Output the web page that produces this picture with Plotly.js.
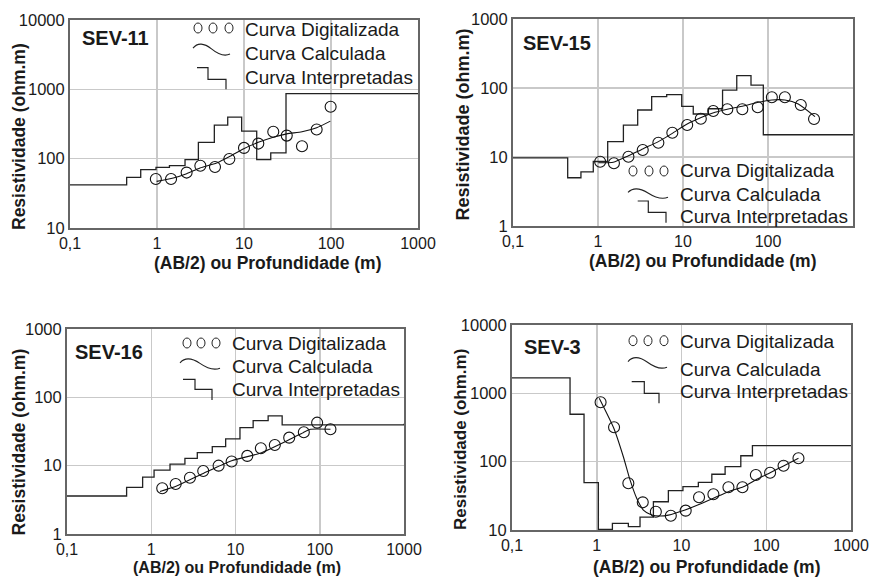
<!DOCTYPE html>
<html>
<head>
<meta charset="utf-8">
<script src="https://cdn.plot.ly/plotly-3.0.1.min.js"></script>
<style>html,body{margin:0;padding:0;background:#fff;}#chart{width:870px;height:577px;}</style>
</head>
<body>
<div id="chart"></div>
<script>
// ---------- DATA ----------
const xTickVals = [0.1, 1, 10, 100, 1000];
const xTickText = ['0,1', '1', '10', '100', '1000'];

// SEV-11
const sev11DigX = [0.97, 1.45, 2.19, 3.15, 4.64, 6.78, 10, 14.6, 21.7, 31, 46.4, 68.4, 99];
const sev11DigY = [51, 51, 63, 79, 76, 99, 143, 165, 244, 215, 151, 263, 561];
const sev11CalcX = [0.99, 1.54, 2.19, 3.12, 4.85, 6.9, 9.8, 14.6, 21.7, 31, 46.4, 68.4, 98.3];
const sev11CalcY = [47, 52.5, 60.7, 73.3, 86.5, 108, 138, 172, 204, 228, 244, 279, 348];
const sev11IntX = [0.1, 0.448, 0.65, 0.974, 1.39, 2.10, 2.99, 4.56, 6.50, 9.40, 14.0, 20.3, 30.4, 1000];
const sev11IntY = [42, 53.6, 69.3, 74.8, 79.2, 96.8, 172, 304, 397, 249, 96.8, 121, 867, 867];

// SEV-15
const sev15DigX = [1.06, 1.54, 2.28, 3.36, 5.13, 7.49, 11.2, 16.2, 22.7, 33.2, 49.9, 75.7, 111, 158, 243, 348];
const sev15DigY = [8.55, 8.1, 10.1, 12.6, 16.1, 22.5, 29.1, 35.9, 46.4, 49.1, 49.1, 52.5, 73.3, 73.3, 56.7, 35.6];
const sev15CalcX = [1.01, 1.51, 2.28, 3.36, 5.13, 7.49, 11.2, 16.6, 23.8, 34.1, 51.2, 76.9, 111, 158, 227, 357];
const sev15CalcY = [8.27, 8.37, 10.4, 13.1, 16.7, 22, 30.1, 37.6, 44.4, 49.7, 54.8, 62, 67, 67, 58.6, 38.4];
const sev15IntX = [0.1, 0.44, 0.63, 0.88, 1.30, 1.99, 2.93, 4.28, 6.43, 9.66, 13.2, 19.9, 29.2, 42.9, 63.1, 88.1, 1000];
const sev15IntY = [9.7, 5.0, 6.1, 8.6, 16.7, 29, 48, 75, 80, 54, 42, 50, 93, 151, 110, 21, 21];

// SEV-16
const sev16DigX = [1.35, 1.95, 2.88, 4.14, 6.3, 9.0, 13.8, 20, 29.3, 43.4, 64.7, 93.1, 134];
const sev16DigY = [4.67, 5.4, 6.67, 8.36, 10.0, 11.5, 13.9, 18, 20.1, 25.7, 30.8, 42.6, 34.1];
const sev16CalcX = [1.27, 2.0, 4.14, 9.0, 19.5, 44.2, 63.5, 77.8, 134];
const sev16CalcY = [4.2, 5.05, 7.7, 11.8, 15.2, 24.3, 30.4, 34.1, 34.1];
const sev16IntX = [0.1, 0.51, 0.79, 1.08, 1.67, 2.51, 3.52, 5.3, 7.64, 11.3, 16.2, 24.4, 35.8, 1000];
const sev16IntY = [3.6, 4.8, 6.8, 8.6, 10.5, 12.8, 15.5, 19, 24.6, 36, 45.6, 53.5, 39.5, 41];

// SEV-3
const sev3DigX = [1.11, 1.6, 2.36, 3.49, 4.98, 7.48, 11.2, 16.1, 23.8, 35.8, 52.4, 75.4, 111, 160, 240];
const sev3DigY = [741, 319, 48.3, 25.4, 18.5, 16.2, 19.2, 30.2, 33.3, 42.2, 42.2, 63.8, 69, 87.3, 112];
const sev3CalcX = [1.07, 1.59, 2.06, 2.47, 2.96, 3.55, 4.45, 5.58, 7.0, 11.0, 16.6, 23.8, 35.8, 53.8, 77.4, 111, 160, 240];
const sev3CalcY = [848, 308, 118, 54, 29.1, 19.6, 16.6, 16, 16.5, 19.6, 24, 29.1, 36.4, 43, 55.2, 69, 86.5, 112];
const sev3IntX = [0.1, 0.484, 0.708, 1.045, 1.53, 2.36, 3.24, 4.66, 7.0, 10.4, 15.8, 22.8, 32.7, 50.1, 68.7, 1000];
const sev3IntY = [1680, 494, 49.3, 10.2, 12.5, 11.2, 15.4, 25.9, 37.6, 43, 49.9, 65.4, 84.5, 122, 172, 172];

const legendNames = ['Curva Digitalizada', 'Curva Calculada', 'Curva Interpretadas'];
const xTitle = '(AB/2) ou Profundidade (m)';
const yTitle = 'Resistividade (ohm.m)';

// ---------- LAYOUT HELPERS ----------
const W = 870, H = 577;
const FONT = 'Liberation Sans, Arial, sans-serif';
const TXT = '#1a1a1a';
const px = v => v / W;
const py = v => 1 - v / H;

const panels = [
  {name: 'SEV-11', dx: sev11DigX, dy: sev11DigY, cx: sev11CalcX, cy: sev11CalcY, ix: sev11IntX, iy: sev11IntY,
   box: [70, 418, 20, 228], yr: [1, 4], yt: [10, 100, 1000, 10000],
   lab: [80, 38], leg: {circ: [198, 213, 229, 28], tx: 243, ty: [29, 53, 78], wave: [193, 43, 230, 56], step: [197, 67.7, 208, 79.3, 226, 89.3]},
   ytl: [19, 137, 17.5], xtl: [267, 263, 17.5]},
  {name: 'SEV-15', dx: sev15DigX, dy: sev15DigY, cx: sev15CalcX, cy: sev15CalcY, ix: sev15IntX, iy: sev15IntY,
   box: [513, 853, 19, 226], yr: [0, 3], yt: [1, 10, 100, 1000],
   lab: [521, 43], leg: {circ: [633, 649, 664, 171], tx: 678, ty: [171, 194, 217], wave: [628, 188, 668, 199], step: [637.7, 201, 648.3, 212.3, 666, 222.7]},
   ytl: [462.5, 125, 18], xtl: [702, 261, 17.5]},
  {name: 'SEV-16', dx: sev16DigX, dy: sev16DigY, cx: sev16CalcX, cy: sev16CalcY, ix: sev16IntX, iy: sev16IntY,
   box: [67, 404, 329, 534], yr: [0, 3], yt: [1, 10, 100, 1000],
   lab: [73, 351.7], leg: {circ: [187, 201, 216, 343], tx: 230, ty: [343, 366, 389], wave: [180, 358, 220, 370], step: [183, 379.3, 195, 389.3, 212, 400]},
   ytl: [18.5, 442, 17.5], xtl: [237, 567, 16]},
  {name: 'SEV-3', dx: sev3DigX, dy: sev3DigY, cx: sev3CalcX, cy: sev3CalcY, ix: sev3IntX, iy: sev3IntY,
   box: [512, 851, 325, 530], yr: [1, 4], yt: [10, 100, 1000, 10000],
   lab: [522, 346.7], leg: {circ: [633, 648, 664, 340.7], tx: 678, ty: [341.7, 369, 391], wave: [628, 356.7, 667, 369], step: [631.7, 381.7, 644.3, 393.3, 659, 403.3]},
   ytl: [460, 440, 17], xtl: [706, 566.5, 17.5]}
];

const data = [];
const layout = {
  width: W, height: H, margin: {l: 0, r: 0, t: 0, b: 0},
  paper_bgcolor: '#ffffff', plot_bgcolor: '#ffffff',
  showlegend: false, font: {family: FONT, color: TXT},
  shapes: [], annotations: []
};

panels.forEach((p, i) => {
  const n = i === 0 ? '' : String(i + 1);
  const xa = 'x' + n, ya = 'y' + n;
  data.push({x: p.ix, y: p.iy, xaxis: xa, yaxis: ya, type: 'scatter', mode: 'lines',
    line: {shape: 'hv', color: '#222', width: 1.3}, name: legendNames[2]});
  data.push({x: p.cx, y: p.cy, xaxis: xa, yaxis: ya, type: 'scatter', mode: 'lines',
    line: {shape: 'spline', smoothing: 0.6, color: '#111', width: 1.1}, name: legendNames[1]});
  data.push({x: p.dx, y: p.dy, xaxis: xa, yaxis: ya, type: 'scatter', mode: 'markers',
    marker: {symbol: 'circle-open', size: 11, color: '#111', line: {width: 1.1, color: '#111'}}, name: legendNames[0]});

  const [l, r, t, b] = p.box;
  layout['xaxis' + n] = {
    domain: [px(l), px(r)], anchor: ya, type: 'log', range: [-1, 3],
    tickmode: 'array', tickvals: xTickVals, ticktext: xTickText,
    tickfont: {family: FONT, size: 16, color: TXT}, ticks: '',
    showgrid: true, gridcolor: '#c9c9c9', gridwidth: 1.5,
    showline: true, linecolor: '#666', linewidth: 2, mirror: true,
    zeroline: false, automargin: false, fixedrange: true
  };
  layout['yaxis' + n] = {
    domain: [py(b), py(t)], anchor: xa, type: 'log', range: p.yr,
    tickmode: 'array', tickvals: p.yt, ticktext: p.yt.map(String),
    tickfont: {family: FONT, size: 16.5, color: TXT}, ticks: '',
    showgrid: true, gridcolor: '#c9c9c9', gridwidth: 1.5,
    showline: true, linecolor: '#666', linewidth: 2, mirror: true,
    zeroline: false, automargin: false, fixedrange: true
  };

  layout.annotations.push({text: '<b>' + p.name + '</b>', xref: 'paper', yref: 'paper',
    x: px(p.lab[0]), y: py(p.lab[1]), xanchor: 'left', yanchor: 'middle', showarrow: false,
    font: {family: FONT, size: 20, color: TXT}});
  layout.annotations.push({text: '<b>' + yTitle + '</b>', xref: 'paper', yref: 'paper', textangle: -90,
    x: px(p.ytl[0]), y: py(p.ytl[1]), xanchor: 'center', yanchor: 'middle', showarrow: false,
    font: {family: FONT, size: p.ytl[2], color: TXT}});
  layout.annotations.push({text: '<b>' + xTitle + '</b>', xref: 'paper', yref: 'paper',
    x: px(p.xtl[0]), y: py(p.xtl[1]), xanchor: 'center', yanchor: 'middle', showarrow: false,
    font: {family: FONT, size: p.xtl[2], color: TXT}});

  const g = p.leg;
  for (let k = 0; k < 3; k++) {
    const cxp = g.circ[k], cyp = g.circ[3];
    layout.shapes.push({type: 'circle', xref: 'paper', yref: 'paper',
      x0: px(cxp - 4), x1: px(cxp + 4), y0: py(cyp + 5), y1: py(cyp - 5),
      line: {color: '#222', width: 1}});
  }
  const [wx0, wy0, wx1, wy1] = g.wave;
  const ww = wx1 - wx0, wh = wy1 - wy0;
  const P = (a, b) => px(a).toFixed(5) + ',' + py(b).toFixed(5);
  layout.shapes.push({type: 'path', xref: 'paper', yref: 'paper',
    path: 'M' + P(wx0, wy0 + 0.4 * wh) +
      ' C' + P(wx0 + 0.12 * ww, wy0 - 0.05 * wh) + ' ' + P(wx0 + 0.3 * ww, wy0) + ' ' + P(wx0 + 0.5 * ww, wy0 + 0.45 * wh) +
      ' C' + P(wx0 + 0.65 * ww, wy0 + 0.8 * wh) + ' ' + P(wx0 + 0.85 * ww, wy0 + 1.05 * wh) + ' ' + P(wx1, wy0 + 0.85 * wh),
    line: {color: '#222', width: 1.1}});
  const s = g.step;
  layout.shapes.push({type: 'path', xref: 'paper', yref: 'paper',
    path: 'M' + P(s[0], s[1]) + ' L' + P(s[2], s[1]) + ' L' + P(s[2], s[3]) + ' L' + P(s[4], s[3]) + ' L' + P(s[4], s[5]),
    line: {color: '#222', width: 1.2}});
  for (let k = 0; k < 3; k++) {
    layout.annotations.push({text: legendNames[k], xref: 'paper', yref: 'paper',
      x: px(g.tx), y: py(g.ty[k]), xanchor: 'left', yanchor: 'middle', showarrow: false,
      font: {family: FONT, size: 19, color: TXT}});
  }
});

Plotly.newPlot('chart', data, layout, {staticPlot: true, displayModeBar: false});
</script>
</body>
</html>
